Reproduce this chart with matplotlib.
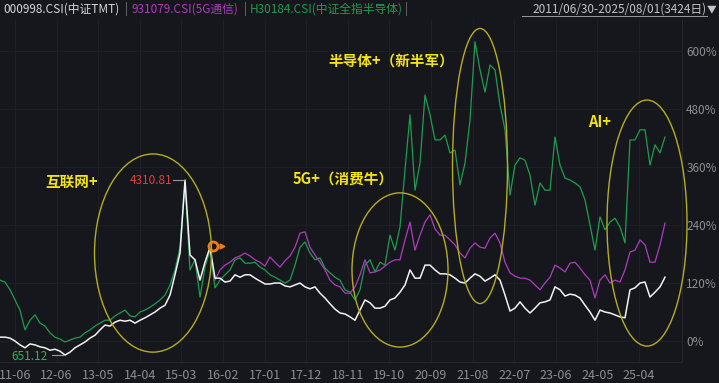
"""
plot.py - TMT / 5G / semiconductor index comparison, dark terminal style.
"""

import matplotlib
matplotlib.use("Agg")  # no display in the sandbox
import matplotlib.pyplot as plt
from matplotlib.patches import Ellipse
import numpy as np

plt.rcParams["font.family"] = ["Noto Sans CJK SC", "DejaVu Sans"]

# ---------------------------------------------------------------------------
# Data (cumulative change in %, one sample roughly every 25 trading days)
# ---------------------------------------------------------------------------

tmt_pct = [
    8, 8, 6, 0, -8, -14, -6, -8, -12, -14,
    -19, -17, -21, -29, -23, -14, -8, -2, 6, 12,
    23, 33, 31, 39, 43, 41, 43, 37, 43, 48,
    54, 60, 68, 74, 95, 137, 182, 333, 178, 168,
    126, 163, 194, 130, 130, 122, 124, 137, 132, 137,
    137, 130, 124, 118, 118, 120, 120, 114, 112, 116,
    120, 112, 108, 112, 99, 89, 77, 66, 58, 56,
    50, 43, 64, 85, 79, 68, 68, 72, 85, 89,
    101, 116, 147, 130, 130, 157, 157, 147, 139, 139,
    137, 130, 122, 120, 130, 139, 134, 124, 130, 137,
    126, 95, 62, 68, 81, 68, 58, 68, 79, 81,
    85, 112, 106, 93, 97, 95, 89, 74, 60, 43,
    64, 60, 58, 54, 50, 48, 106, 110, 120, 122,
    91, 101, 112, 132,
]

semi_pct = [
    126, 122, 106, 85, 64, 23, 43, 54, 37, 31,
    17, 8, 4, -2, 2, 6, 8, 17, 23, 31,
    37, 43, 43, 52, 58, 64, 52, 50, 60, 64,
    70, 77, 85, 95, 116, 147, 194, 327, 147, 168,
    91, 153, 188, 110, 126, 137, 147, 168, 172, 161,
    161, 163, 153, 147, 137, 132, 126, 120, 126, 157,
    194, 205, 182, 168, 172, 151, 141, 132, 126, 106,
    101, 85, 106, 157, 168, 143, 163, 157, 219, 188,
    236, 354, 468, 312, 368, 509, 468, 416, 416, 426,
    389, 395, 323, 368, 457, 619, 561, 515, 571, 561,
    488, 437, 302, 364, 379, 374, 343, 281, 327, 312,
    312, 422, 364, 337, 333, 327, 319, 292, 240, 188,
    257, 230, 246, 254, 236, 203, 416, 416, 437, 437,
    364, 406, 389, 422,
]

# 5G index only has history from 2015 on
g5_start = 43
g5_pct = [
    126, 147, 157, 163, 172, 176, 182, 176, 168, 163,
    155, 174, 163, 153, 166, 176, 194, 223, 226, 194,
    178, 163, 147, 126, 116, 112, 99, 99, 112, 137,
    168, 141, 143, 147, 155, 163, 168, 168, 209, 246,
    188, 219, 246, 261, 232, 219, 219, 209, 199, 182,
    172, 192, 203, 194, 192, 213, 223, 203, 163, 141,
    134, 130, 130, 126, 116, 106, 120, 132, 157, 151,
    143, 161, 163, 151, 137, 126, 89, 126, 137, 120,
    126, 122, 147, 184, 188, 209, 199, 163, 163, 199,
    244,
]

x_labels = ["11-06", "12-06", "13-05", "14-04", "15-03", "16-02", "17-01",
            "17-12", "18-11", "19-10", "20-09", "21-08", "22-07", "23-06",
            "24-05", "25-04"]
y_ticks = [0, 120, 240, 360, 480, 600]

tmt_high_label = "4310.81"
tmt_low_label = "651.12"

# ---------------------------------------------------------------------------
# Style
# ---------------------------------------------------------------------------

BG = "#16171c"
GRID = "#1e2025"
WHITE = "#f2f2f2"
GREEN = "#1f9c4f"
PURPLE = "#ad3dbe"
YELLOW = "#f5e414"
RING = "#b5ad22"
AXIS_TXT = "#8e8e8e"

W, H = 719, 383
fig = plt.figure(figsize=(W / 100, H / 100), dpi=100, facecolor=BG)
ax = fig.add_axes([0, 21 / H, 682 / W, 342 / H], facecolor=BG)

x_all = np.arange(len(tmt_pct))
x_g5 = np.arange(g5_start, g5_start + len(g5_pct))

ax.plot(x_all, semi_pct, color=GREEN, lw=0.9, zorder=3)
ax.plot(x_g5, g5_pct, color=PURPLE, lw=0.9, zorder=4)
ax.plot(x_all, tmt_pct, color=WHITE, lw=1.1, zorder=5)

ax.set_xlim(0, 136.4)
ax.set_ylim(-43.4, 664.1)

# axes / ticks
ax.yaxis.tick_right()
ax.set_yticks(y_ticks)
ax.set_yticklabels([f"{v}%" for v in y_ticks])
x_tick_pos = 3 + 8.32 * np.arange(len(x_labels))
ax.set_xticks(x_tick_pos)
ax.set_xticklabels(x_labels)
ax.tick_params(axis="y", length=0, pad=3, labelsize=8.5, labelcolor=AXIS_TXT)
ax.tick_params(axis="x", length=0, pad=5, labelsize=9, labelcolor=AXIS_TXT)
ax.grid(color=GRID, lw=0.7)
for side in ("left", "top"):
    ax.spines[side].set_visible(False)
for side in ("right", "bottom"):
    ax.spines[side].set_color("#25272c")
    ax.spines[side].set_linewidth(0.8)

# high / low markers on the TMT line
i_hi = int(np.argmax(tmt_pct))
i_lo = int(np.argmin(tmt_pct))
ax.plot([i_hi - 2.4, i_hi - 0.2], [tmt_pct[i_hi]] * 2, color="#9a9a9a", lw=0.8, zorder=6)
ax.text(i_hi - 2.6, tmt_pct[i_hi], tmt_high_label, color="#e2403b", fontsize=8.5,
        ha="right", va="center", zorder=6)
ax.plot([i_lo - 2.6, i_lo - 0.4], [tmt_pct[i_lo]] * 2, color="#9a9a9a", lw=0.8, zorder=6)
ax.text(i_lo - 3.4, tmt_pct[i_lo] - 4, tmt_low_label, color="#2fb25a", fontsize=8.5,
        ha="right", va="center", zorder=6)

# orange marker at the start of the 5G series
ax.plot(42.6, 197, marker="o", ms=6.5, mfc=BG, mec="#f07a1a", mew=2.0, zorder=7)
ax.plot(44.3, 197, marker=">", ms=3.5, color="#f07a1a", zorder=7)

# highlight rings
for cx, cy, w, h in [(30.6, 182, 23.4, 410), (80, 147, 19.2, 319),
                     (96, 362, 11, 569), (129.4, 244, 16, 509)]:
    ax.add_patch(Ellipse((cx, cy), w, h, fill=False, ec=RING, lw=1.0,
                         zorder=8, clip_on=False))

# theme labels
for tx, ty, s in [(9, 329, "互联网+"), (58.6, 337, "5G+（消费牛）"),
                  (65.6, 581, "半导体+（新半军）"), (117.6, 453, "AI+")]:
    ax.text(tx, ty, s, color=YELLOW, fontsize=10.5, fontweight="bold",
            ha="left", va="center", zorder=9)

# header
header = [(3, "000998.CSI(中证TMT)", "#d6d6d6"), (125, "|", "#777777"),
          (131, "931079.CSI(5G通信)", PURPLE), (244, "|", "#777777"),
          (250, "H30184.CSI(中证全指半导体)", GREEN), (405, "|", "#777777")]
for px, s, c in header:
    fig.text(px / W, 1 - 9 / H, s, color=c, fontsize=8.5, ha="left", va="center")
fig.text(707 / W, 1 - 9 / H, "2011/06/30-2025/08/01(3424日)", color="#c4c4c4",
         fontsize=8.5, ha="right", va="center")
fig.text(716 / W, 1 - 9 / H, "▼", color="#c4c4c4", fontsize=7, ha="right", va="center")
fig.add_artist(plt.Line2D([522 / W, 707 / W], [1 - 16 / H] * 2, color="#9a9a9a", lw=0.7))

fig.savefig("out.png", dpi=100, facecolor=BG)
